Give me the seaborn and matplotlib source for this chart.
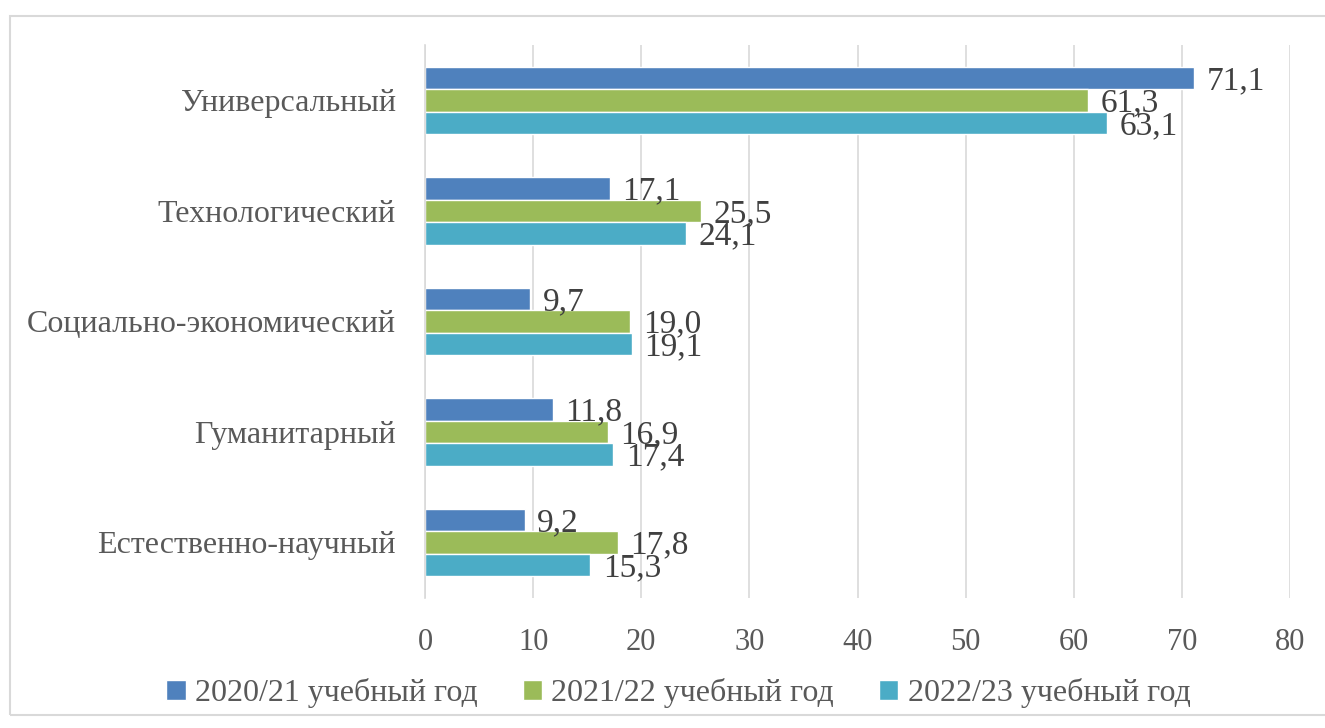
import pandas as pd
import seaborn as sns
import matplotlib.pyplot as plt
from matplotlib.patches import Rectangle

# Данные
profiles = ['Универсальный', 'Технологический', 'Социально-экономический',
            'Гуманитарный', 'Естественно-научный']
years = ['2020/21 учебный год', '2021/22 учебный год', '2022/23 учебный год']
v_2020 = [71.1, 17.1, 9.7, 11.8, 9.2]
v_2021 = [61.3, 25.5, 19.0, 16.9, 17.8]
v_2022 = [63.1, 24.1, 19.1, 17.4, 15.3]
colors = ['#4F81BD', '#9BBB59', '#4BACC6']

df = pd.DataFrame({
    'profile': profiles * 3,
    'year': [years[0]] * 5 + [years[1]] * 5 + [years[2]] * 5,
    'value': v_2020 + v_2021 + v_2022,
})

sns.set_theme(style='white')
plt.rcParams['font.family'] = ['Liberation Serif', 'DejaVu Serif']
txt = '#595959'

fig = plt.figure(figsize=(13.25, 7.28), dpi=100)
ax = fig.add_axes([0.3208, 0.179, 0.6528, 0.759])

sns.barplot(data=df, y='profile', x='value', hue='year', order=profiles,
            hue_order=years, palette=colors, orient='h', width=0.61,
            saturation=1, ax=ax, legend=True)

for cont in ax.containers:
    labels = [f'{b.get_width():.1f}'.replace('.', ',') for b in cont]
    texts = ax.bar_label(cont, labels=labels, padding=9, fontsize=24,
                         color='#404040')
    for t in texts:
        t.xyann = (9, -2)

ax.set_xlim(0, 80)
ax.set_xticks(range(0, 81, 10))
ax.grid(axis='x', color='#d9d9d9', linewidth=1.2)
ax.set_axisbelow(True)
for s in ['top', 'right', 'bottom']:
    ax.spines[s].set_visible(False)
ax.spines['left'].set_color('#d9d9d9')
ax.spines['left'].set_linewidth(1.2)
ax.tick_params(axis='x', length=0, labelsize=22, colors=txt, pad=22)
ax.tick_params(axis='y', length=0, labelsize=23, colors=txt, pad=21)
ax.set_xlabel('')
ax.set_ylabel('')

leg = ax.legend(loc='center', ncol=3, frameon=False, fontsize=23,
                handlelength=0.6, handleheight=0.6, columnspacing=1.4,
                handletextpad=0.3)
leg.set_bbox_to_anchor((0.512, 0.048), transform=fig.transFigure)
for t in leg.get_texts():
    t.set_color(txt)

fig.patches.append(Rectangle((10 / 1325, 1 - 715 / 728), 1.2, 699 / 728,
                             transform=fig.transFigure, fill=False,
                             edgecolor='#d9d9d9', linewidth=1.5, zorder=0))

plt.savefig('out.png', dpi=100)
